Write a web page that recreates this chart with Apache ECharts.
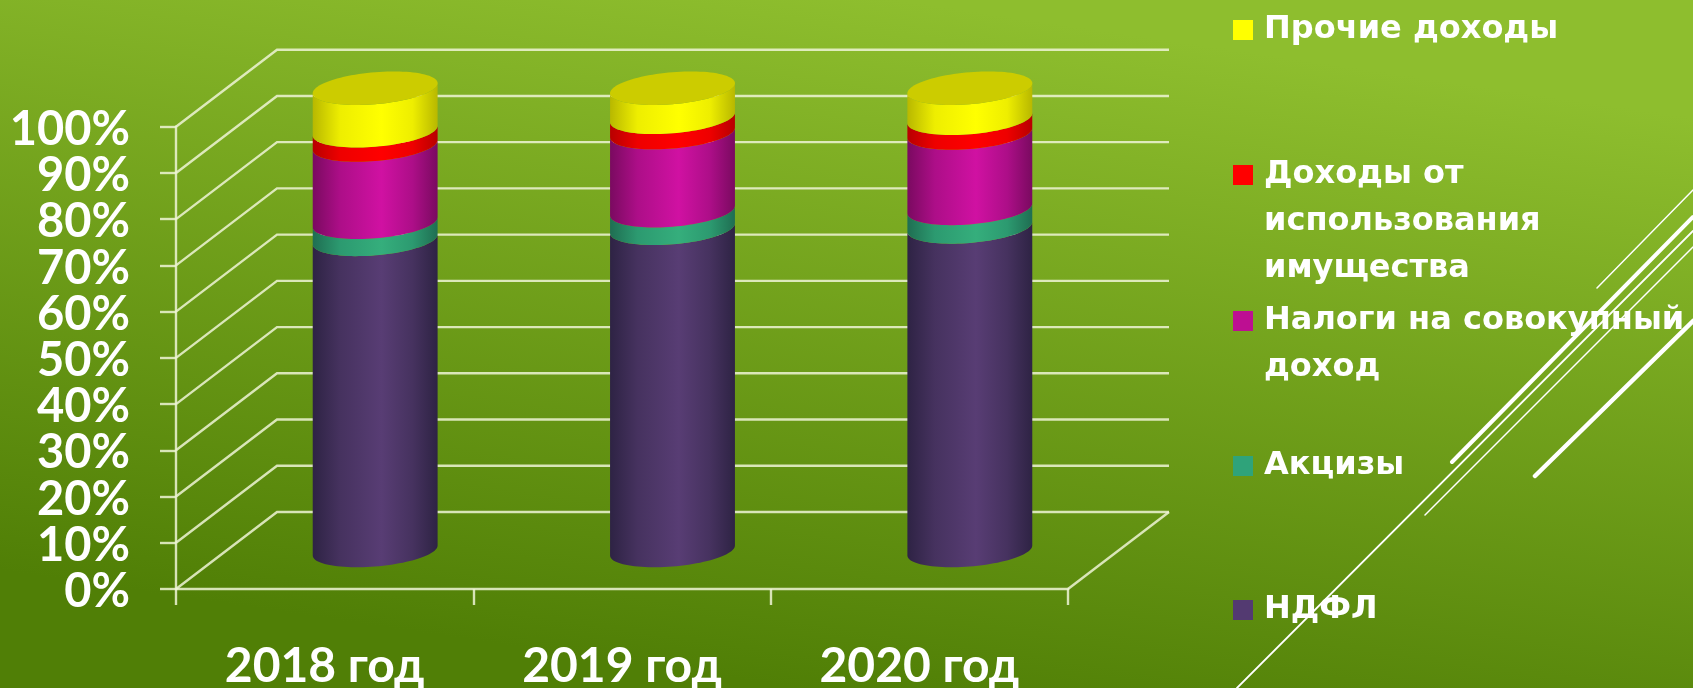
<!DOCTYPE html>
<html>
<head>
<meta charset="utf-8">
<style>
  html, body { margin: 0; padding: 0; background: #6f9e1a; }
  #chart { width: 1693px; height: 688px; }
</style>
<script src="https://cdn.jsdelivr.net/npm/echarts@6/dist/echarts.min.js"></script>
</head>
<body>
<div id="chart"></div>
<script>
const years = ["2018 год", "2019 год", "2020 год"];
const yTicks = [0, 10, 20, 30, 40, 50, 60, 70, 80, 90, 100];

// shares in percent, bottom to top
const ndfl = [67.3, 69.7, 70.0];
const akcizy = [3.7, 3.8, 4.0];
const nalogi = [16.7, 16.9, 16.3];
const imushchestvo = [3.1, 3.3, 3.2];
const prochie = [9.2, 6.3, 6.5];

const names = ["НДФЛ", "Акцизы", "Налоги на совокупный доход", "Доходы от использования имущества", "Прочие доходы"];
const values = [ndfl, akcizy, nalogi, imushchestvo, prochie];
const legendColors = ["#533a71", "#2fa37a", "#bd0f92", "#ff0000", "#ffff00"];
// edge / mid / centre of the cylinder shading
const shades = [
  ["#2e2344", "#46325f", "#583d74"],
  ["#1f6e52", "#2c9a70", "#35ae7c"],
  ["#7a0a60", "#ad0e88", "#d011a2"],
  ["#b80000", "#ee0000", "#ff0000"],
  ["#b8b800", "#eeee00", "#ffff00"],
];
const capColor = "#cccc00";
const lineColor = "rgba(238,244,214,0.85)";

// oblique depth of the 3D box
const depthX = 101;
const depthY = 77;

function cylinderFill(c) {
  return {
    type: "linear", x: 0, y: 0, x2: 1, y2: 0,
    colorStops: [
      { offset: 0, color: c[0] },
      { offset: 0.22, color: c[1] },
      { offset: 0.55, color: c[2] },
      { offset: 0.8, color: c[1] },
      { offset: 1, color: c[0] },
    ],
  };
}

// t from 0 to PI walks the front half of the base ellipse, right to left
function arcPoints(cx, cy, rx, reverse) {
  const ry = 16, skew = 5, pts = [];
  for (let i = 0; i <= 48; i++) {
    const t = (Math.PI * (reverse ? 48 - i : i)) / 48;
    pts.push([cx + rx * Math.cos(t), cy - skew * Math.cos(t) + ry * Math.sin(t)]);
  }
  return pts;
}

function renderCylinder(idx, isTop) {
  return function (params, api) {
    const low = api.coord([api.value(0), api.value(1)]);
    const high = api.coord([api.value(0), api.value(2)]);
    const cx = low[0] + depthX / 2;
    const rx = api.size([1, 0])[0] * 0.21;
    const points = arcPoints(cx, low[1] - depthY / 2, rx, false)
      .concat(arcPoints(cx, high[1] - depthY / 2, rx, true));
    const children = [{
      type: "polygon",
      shape: { points },
      style: { fill: cylinderFill(shades[idx]) },
    }];
    if (isTop) {
      const front = arcPoints(cx, high[1] - depthY / 2, rx, false);
      const back = front.map((p) => [2 * cx - p[0], 2 * (high[1] - depthY / 2) - p[1]]);
      children.push({
        type: "polygon",
        shape: { points: front.concat(back) },
        style: { fill: capColor },
      });
    }
    return { type: "group", children };
  };
}

// back wall and side wall lines for every y tick
function renderWall(params, api) {
  const rect = params.coordSys;
  const y = api.coord([0, api.value(0)])[1];
  const x0 = rect.x, x1 = rect.x + rect.width;
  const pts = [[x0, y], [x0 + depthX, y - depthY], [x1 + depthX, y - depthY]];
  const children = [{
    type: "polyline",
    shape: { points: pts },
    style: { stroke: lineColor, lineWidth: 2.4, fill: null },
  }];
  if (api.value(0) === 0) {
    children.push({
      type: "line",
      shape: { x1: x1, y1: y, x2: x1 + depthX, y2: y - depthY },
      style: { stroke: lineColor, lineWidth: 2.4 },
    });
  }
  return { type: "group", children };
}

const series = [{
  type: "custom",
  silent: true,
  renderItem: renderWall,
  data: yTicks.map((v) => [v]),
  encode: { y: 0 },
  clip: false,
  z: 1,
}];
names.forEach((name, i) => {
  series.push({
    name,
    type: "custom",
    renderItem: renderCylinder(i, i === names.length - 1),
    itemStyle: { color: legendColors[i] },
    encode: { x: 0, y: [1, 2] },
    clip: false,
    z: 3,
    data: years.map((y, c) => {
      let start = 0;
      for (let k = 0; k < i; k++) start += values[k][c];
      return [c, start, start + values[i][c]];
    }),
  });
});

const legendFont = "'DejaVu Sans', sans-serif";
const legendLabels = {
  "Прочие доходы": { lines: ["Прочие доходы"], iconTop: 20 },
  "Доходы от использования имущества": { lines: ["Доходы от", "использования", "имущества"], iconTop: 165 },
  "Налоги на совокупный доход": { lines: ["Налоги на совокупный", "доход"], iconTop: 311 },
  "Акцизы": { lines: ["Акцизы"], iconTop: 456 },
  "НДФЛ": { lines: ["НДФЛ"], iconTop: 600 },
};
const legendRowHeight = 46.7;

// the legend centres text on its icon, so blank rows above keep line one beside the icon
const legends = names.map((name) => {
  const l = legendLabels[name];
  const blanks = l.lines.length - 1;
  const rows = 2 * blanks + 1;
  return {
    data: [name],
    left: 1233,
    top: l.iconTop - (rows * legendRowHeight - 20) / 2,
    icon: "rect",
    itemWidth: 20,
    itemHeight: 20,
    itemGap: 0,
    selectedMode: false,
    padding: 0,
    formatter: () => "\n".repeat(blanks) + l.lines.join("\n"),
    textStyle: {
      color: "#fff",
      fontFamily: legendFont,
      fontWeight: "bold",
      fontSize: 32,
      lineHeight: legendRowHeight,
      padding: [0, 0, 0, 6],
    },
  };
});

// slide decoration, not data
const decoLines = [
  { x1: 1237, y1: 688, x2: 1693, y2: 231, w: 1.8 },
  { x1: 1597, y1: 288, x2: 1693, y2: 190, w: 1.5 },
  { x1: 1452, y1: 462, x2: 1693, y2: 217, w: 4 },
  { x1: 1425, y1: 515, x2: 1693, y2: 247, w: 1.5 },
  { x1: 1535, y1: 476, x2: 1693, y2: 321, w: 4.5 },
];

const yLabel = {
  margin: 46,
  formatter: "{t|{value}%}",
  rich: {
    t: {
      color: "#fff",
      fontFamily: "Lato, sans-serif",
      fontWeight: "bold",
      fontSize: 47,
      lineHeight: 36,
      padding: [6, 0, 0, 0],
    },
  },
};

const chart = echarts.init(document.getElementById("chart"));
chart.setOption({
  animation: false,
  backgroundColor: {
    type: "linear", x: 0.47, y: 1, x2: 0.53, y2: 0,
    colorStops: [
      { offset: 0, color: "#507f06" },
      { offset: 1, color: "#8ebe2e" },
    ],
  },
  legend: legends,
  grid: { left: 176, right: 625, top: 126.7, bottom: 99, outerBoundsMode: "none" },
  xAxis: {
    type: "category",
    data: years,
    axisLine: { lineStyle: { color: lineColor, width: 2.4 } },
    axisTick: { show: true, length: 16, lineStyle: { color: lineColor, width: 2.4 } },
    splitLine: { show: false },
    axisLabel: {
      color: "#fff",
      fontFamily: "Lato, sans-serif",
      fontWeight: "bold",
      fontSize: 48,
      margin: 54,
    },
  },
  // labels nearly touch, so the end labels come from a second axis or ECharts drops their neighbours
  yAxis: [
    {
      type: "value",
      min: 0,
      max: 100,
      interval: 10,
      axisLine: { show: true, lineStyle: { color: lineColor, width: 2.4 } },
      axisTick: { show: true, length: 16, lineStyle: { color: lineColor, width: 2.4 } },
      splitLine: { show: false },
      axisLabel: Object.assign({ showMinLabel: false, showMaxLabel: false }, yLabel),
    },
    {
      type: "value",
      position: "left",
      min: 0,
      max: 100,
      interval: 100,
      axisLine: { show: false },
      axisTick: { show: true, length: 16, lineStyle: { color: lineColor, width: 2.4 } },
      splitLine: { show: false },
      axisLabel: yLabel,
    },
  ],
  series,
  graphic: decoLines.map((d) => ({
    type: "line",
    z: 10,
    silent: true,
    shape: { x1: d.x1, y1: d.y1, x2: d.x2, y2: d.y2 },
    style: { stroke: "#fff", lineWidth: d.w, lineCap: "round" },
  })),
});
</script>
</body>
</html>
